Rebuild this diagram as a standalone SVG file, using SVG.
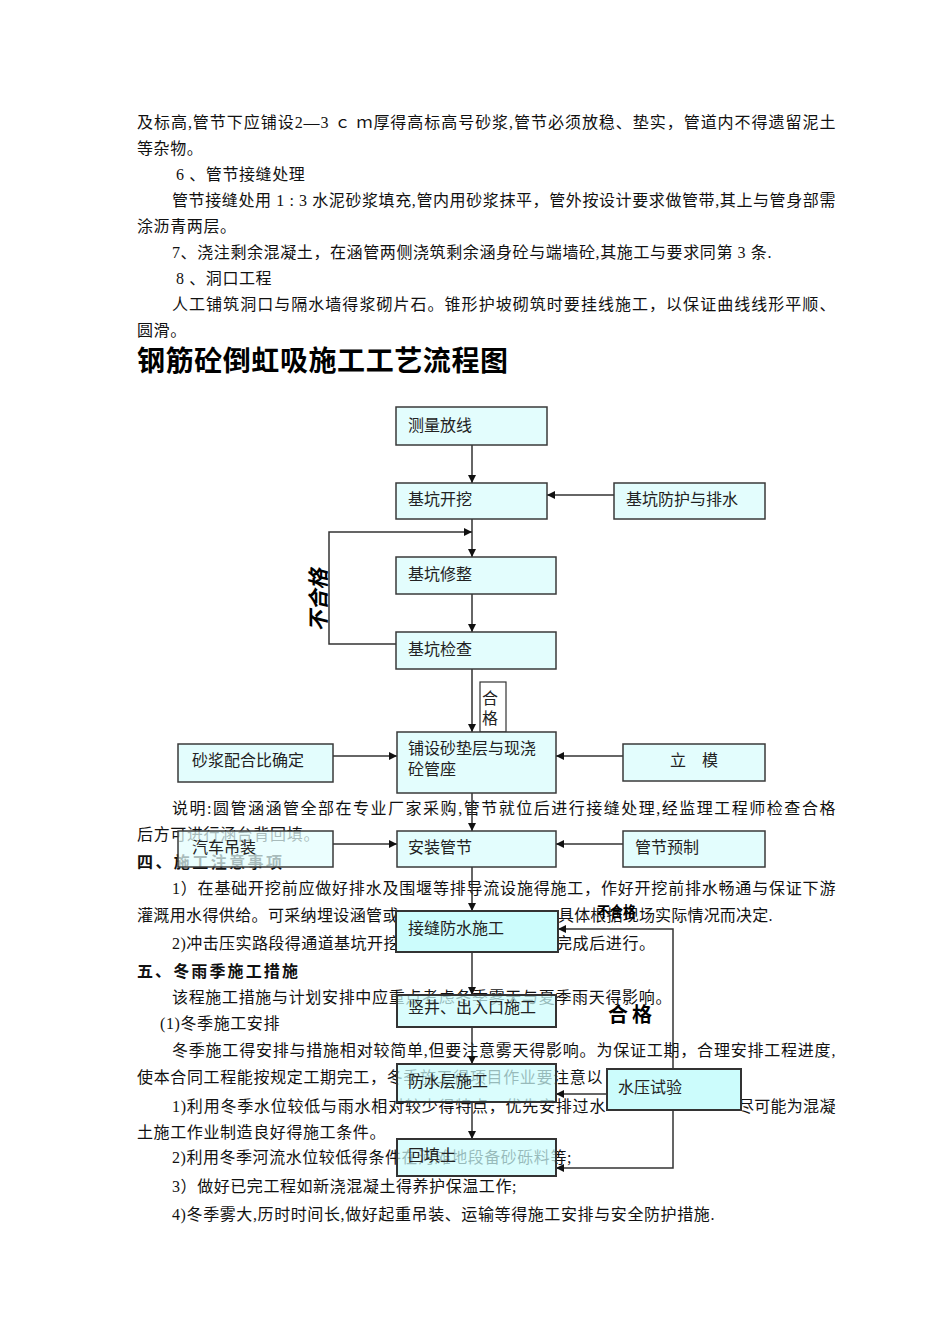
<svg xmlns="http://www.w3.org/2000/svg" width="950" height="1344" viewBox="0 0 950 1344">
<style>
.t{font-family:"Liberation Serif","Noto Sans CJK SC",serif;font-size:16px;fill:#111;letter-spacing:0.6px}
.h{font-family:"Noto Sans CJK SC",sans-serif;font-size:16px;font-weight:bold;fill:#111}
.title{font-family:"Noto Sans CJK SC",sans-serif;font-size:28px;font-weight:bold;fill:#000}
.bx{fill:#e3fdfd;stroke:#3a3a3a;stroke-width:1.5}
.bx2{fill:#ccfcfc;stroke:#333;stroke-width:2}
.semi{fill-opacity:0.72}
.lb{font-family:"Noto Sans CJK SC",sans-serif;font-size:16px;fill:#222}
.lbl{font-family:"Noto Sans CJK SC",sans-serif;font-weight:bold;fill:#000}
.c{fill:none;stroke:#333;stroke-width:1.5}
</style>
<defs>
<marker id="ah" viewBox="0 0 10 10" refX="10" refY="5" markerWidth="8" markerHeight="8" markerUnits="userSpaceOnUse" orient="auto">
<path d="M0,0 L10,5 L0,10 z" fill="#111"/>
</marker>
</defs>
<rect width="950" height="1344" fill="#fff"/>
<g id="body-text">
<text class="t" x="137" y="128" textLength="699" lengthAdjust="spacing">及标高,管节下应铺设2—3 ｃ ｍ厚得高标高号砂浆,管节必须放稳、垫实，管道内不得遗留泥土</text>
<text class="t" x="137" y="154">等杂物。</text>
<text class="t" x="176" y="180">6 、管节接缝处理</text>
<text class="t" x="172" y="206" textLength="664" lengthAdjust="spacing">管节接缝处用 1 : 3 水泥砂浆填充,管内用砂浆抹平，管外按设计要求做管带,其上与管身部需</text>
<text class="t" x="137" y="232">涂沥青两层。</text>
<text class="t" x="172" y="258" textLength="600" lengthAdjust="spacing">7、浇注剩余混凝土，在涵管两侧浇筑剩余涵身砼与端墙砼,其施工与要求同第 3 条.</text>
<text class="t" x="176" y="284">8 、洞口工程</text>
<text class="t" x="172" y="310" textLength="664" lengthAdjust="spacing">人工铺筑洞口与隔水墙得浆砌片石。锥形护坡砌筑时要挂线施工，以保证曲线线形平顺、</text>
<text class="t" x="137" y="336">圆滑。</text>
<text class="title" x="137" y="371" textLength="371" lengthAdjust="spacing">钢筋砼倒虹吸施工工艺流程图</text>
<text class="t" x="172" y="814" textLength="664" lengthAdjust="spacing">说明:圆管涵涵管全部在专业厂家采购,管节就位后进行接缝处理,经监理工程师检查合格</text>
<text class="t" x="137" y="840" textLength="183" lengthAdjust="spacing">后方可进行涵台背回填。</text>
<text class="h" x="137" y="868" textLength="145" lengthAdjust="spacing">四、施工注意事项</text>
<text class="t" x="172" y="894" textLength="664" lengthAdjust="spacing">1）在基础开挖前应做好排水及围堰等排导流设施得施工，作好开挖前排水畅通与保证下游</text>
<text class="t" x="137" y="921" textLength="262" lengthAdjust="spacing">灌溉用水得供给。可采纳埋设涵管或</text>
<text class="t" x="558" y="921" textLength="215" lengthAdjust="spacing">具体根据现场实际情况而决定.</text>
<text class="t" x="172" y="949" textLength="228" lengthAdjust="spacing">2)冲击压实路段得通道基坑开挖</text>
<text class="t" x="556" y="949">完成后进行。</text>
<text class="h" x="137" y="977" textLength="161" lengthAdjust="spacing">五、冬雨季施工措施</text>
<text class="t" x="172" y="1003" textLength="500" lengthAdjust="spacing">该程施工措施与计划安排中应重点考虑冬季雾天与夏季雨天得影响。</text>
<text class="t" x="160" y="1029">(1)冬季施工安排</text>
<text class="t" x="172" y="1056" textLength="664" lengthAdjust="spacing">冬季施工得安排与措施相对较简单,但要注意雾天得影响。为保证工期，合理安排工程进度,</text>
<text class="t" x="137" y="1083" textLength="466" lengthAdjust="spacing">使本合同工程能按规定工期完工，冬季施工得项目作业要注意以</text>
<text class="t" x="172" y="1112" textLength="434" lengthAdjust="spacing">1)利用冬季水位较低与雨水相对较少得特点，优先安排过水</text>
<text class="t" x="738" y="1112" textLength="98" lengthAdjust="spacing">尽可能为混凝</text>
<text class="t" x="137" y="1138">土施工作业制造良好得施工条件。</text>
<text class="t" x="172" y="1163" textLength="400" lengthAdjust="spacing">2)利用冬季河流水位较低得条件在河滩地段备砂砾料等;</text>
<text class="t" x="172" y="1192" textLength="345" lengthAdjust="spacing">3）做好已完工程如新浇混凝土得养护保温工作;</text>
<text class="t" x="172" y="1220" textLength="543" lengthAdjust="spacing">4)冬季雾大,历时时间长,做好起重吊装、运输等得施工安排与安全防护措施.</text>
</g>
<g id="connectors">
<path class="c" d="M472,445 V483" marker-end="url(#ah)"/>
<path class="c" d="M614,495 H547" marker-end="url(#ah)"/>
<path class="c" d="M472,519 V557" marker-end="url(#ah)"/>
<path class="c" d="M396,644 H329 V532 H472" marker-end="url(#ah)"/>
<path class="c" d="M472,594 V632" marker-end="url(#ah)"/>
<path class="c" d="M472,669 V732" marker-end="url(#ah)"/>
<path class="c" d="M333,756 H397" marker-end="url(#ah)"/>
<path class="c" d="M623,756 H556" marker-end="url(#ah)"/>
<path class="c" d="M472,793 V831" marker-end="url(#ah)"/>
<path class="c" d="M333,844 H397" marker-end="url(#ah)"/>
<path class="c" d="M623,844 H556" marker-end="url(#ah)"/>
<path class="c" d="M472,867 V911" marker-end="url(#ah)"/>
<path class="c" d="M472,952 V995" marker-end="url(#ah)"/>
<path class="c" d="M472,1027 V1064" marker-end="url(#ah)"/>
<path class="c" d="M472,1102 V1139" marker-end="url(#ah)"/>
<path class="c" d="M673,1069 V929 H558" marker-end="url(#ah)"/>
<path class="c" d="M607,1094 H556" marker-end="url(#ah)"/>
<path class="c" d="M673,1110 V1168 H556" marker-end="url(#ah)"/>
</g>
<g id="n-celiang"><rect class="bx" x="396" y="407" width="151" height="38"/><text class="lb" x="408" y="431">测量放线</text></g>
<g id="n-kaiwa"><rect class="bx" x="396" y="483" width="151" height="36"/><text class="lb" x="408" y="505">基坑开挖</text></g>
<g id="n-fanghu"><rect class="bx" x="614" y="483" width="151" height="36"/><text class="lb" x="626" y="505">基坑防护与排水</text></g>
<g id="n-xiuzheng"><rect class="bx" x="396" y="557" width="160" height="37"/><text class="lb" x="408" y="580">基坑修整</text></g>
<g id="n-jiancha"><rect class="bx" x="396" y="632" width="160" height="37"/><text class="lb" x="408" y="655">基坑检查</text></g>
<g id="l-buhege1"><text class="lbl" font-size="21" font-style="italic" transform="translate(326,600) rotate(-90)" text-anchor="middle">不合格</text></g>
<g id="l-hege1"><rect x="480" y="682" width="26" height="50" fill="#fff" stroke="#333" stroke-width="1.2"/><text class="lb" x="482" y="704">合</text><text class="lb" x="482" y="724">格</text></g>
<g id="n-puse"><rect class="bx" x="397" y="732" width="159" height="61"/><text class="lb" x="408" y="754">铺设砂垫层与现浇</text><text class="lb" x="408" y="775">砼管座</text></g>
<g id="n-shajiang"><rect class="bx" x="178" y="744" width="155" height="38"/><text class="lb" x="192" y="766">砂浆配合比确定</text></g>
<g id="n-limo"><rect class="bx" x="623" y="744" width="142" height="37"/><text class="lb" x="670" y="766">立　模</text></g>
<g id="n-qiche"><rect class="bx semi" x="178" y="831" width="155" height="36"/><text class="lb" x="192" y="853">汽车吊装</text></g>
<g id="n-anzhuang"><rect class="bx" x="397" y="831" width="159" height="36"/><text class="lb" x="408" y="853">安装管节</text></g>
<g id="n-yuzhi"><rect class="bx" x="623" y="831" width="142" height="36"/><text class="lb" x="635" y="853">管节预制</text></g>
<g id="n-jiefeng"><rect class="bx2" x="396" y="911" width="162" height="41"/><text class="lb" x="408" y="934">接缝防水施工</text></g>
<g id="l-buhege2"><text class="lbl" font-size="15" x="597" y="917" textLength="39" lengthAdjust="spacingAndGlyphs">不合格</text></g>
<g id="n-shujing"><rect class="bx2 semi" x="397" y="995" width="159" height="32"/><text class="lb" x="408" y="1013">竖井、出入口施工</text></g>
<g id="l-hege2"><text class="lbl" font-size="20" x="608" y="1022" textLength="44" lengthAdjust="spacing">合格</text></g>
<g id="n-fangshui"><rect class="bx2 semi" x="397" y="1064" width="159" height="38"/><text class="lb" x="408" y="1087">防水层施工</text></g>
<g id="n-shuiya"><rect class="bx2" x="607" y="1069" width="134" height="41"/><text class="lb" x="618" y="1093">水压试验</text></g>
<g id="n-huitian"><rect class="bx2 semi" x="397" y="1139" width="159" height="37"/><text class="lb" x="408" y="1161">回填土</text></g>
</svg>
